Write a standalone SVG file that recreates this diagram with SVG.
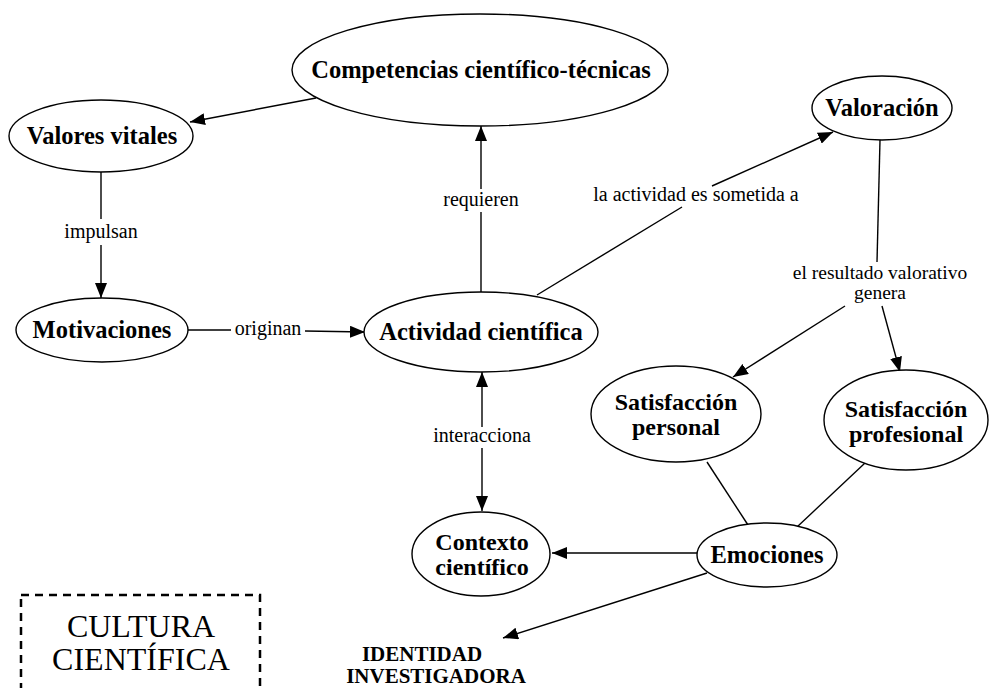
<svg xmlns="http://www.w3.org/2000/svg" width="989" height="688" viewBox="0 0 989 688">
<style>
.node ellipse{fill:#fff;stroke:#000;stroke-width:1.4}
.nt{font-family:"Liberation Serif","Times New Roman",serif;font-weight:bold;font-size:24.5px;text-anchor:middle;fill:#000}
.nt2{font-family:"Liberation Serif","Times New Roman",serif;font-weight:bold;font-size:24px;text-anchor:middle;fill:#000}
.el{font-family:"Liberation Serif","Times New Roman",serif;font-size:20px;text-anchor:middle;fill:#000}
.el2{font-family:"Liberation Serif","Times New Roman",serif;font-size:19.5px;text-anchor:middle;fill:#000}
.big{font-family:"Liberation Serif","Times New Roman",serif;font-size:32px;text-anchor:middle;fill:#000}
#connectors line{stroke:#000;stroke-width:1.4;fill:none}
</style>
<defs>
<marker id="ah" markerUnits="userSpaceOnUse" markerWidth="16" markerHeight="12" refX="15" refY="6" orient="auto-start-reverse">
<path d="M0,0 L15,6 L0,12 z" fill="#000"/>
</marker>
</defs>
<rect width="989" height="688" fill="#fff"/>
<g id="connectors">
<line x1="316" y1="98" x2="190" y2="122" marker-end="url(#ah)"/>
<line x1="101" y1="172" x2="101" y2="219"/>
<line x1="101" y1="245" x2="101" y2="298" marker-end="url(#ah)"/>
<line x1="188" y1="330" x2="231" y2="330"/>
<line x1="305" y1="331" x2="365" y2="332" marker-end="url(#ah)"/>
<line x1="481" y1="292" x2="481" y2="212"/>
<line x1="481" y1="189" x2="481" y2="126" marker-end="url(#ah)"/>
<line x1="537" y1="295" x2="682" y2="207"/>
<line x1="712" y1="186" x2="833" y2="132" marker-end="url(#ah)"/>
<line x1="880" y1="140" x2="877" y2="262"/>
<line x1="845" y1="306" x2="733" y2="377" marker-end="url(#ah)"/>
<line x1="882" y1="306" x2="900" y2="372" marker-end="url(#ah)"/>
<line x1="707" y1="462" x2="748" y2="525"/>
<line x1="865" y1="463" x2="797" y2="527"/>
<line x1="697" y1="553" x2="552" y2="553" marker-end="url(#ah)"/>
<line x1="482" y1="427" x2="482" y2="372" marker-end="url(#ah)"/>
<line x1="482" y1="448" x2="482" y2="511" marker-end="url(#ah)"/>
<line x1="707" y1="573" x2="503" y2="638" marker-end="url(#ah)"/>
<text class="el" x="101" y="238">impulsan</text>
<text class="el" x="268" y="335">originan</text>
<text class="el" x="481" y="206">requieren</text>
<text class="el" x="696" y="201">la actividad es sometida a</text>
<text class="el2" x="880" y="279">el resultado valorativo</text>
<text class="el2" x="880" y="299">genera</text>
<text class="el" x="482" y="442">interacciona</text>
</g>
<g id="competencias" class="node">
<ellipse cx="480" cy="70" rx="188" ry="56"/>
<text class="nt" x="481" y="78">Competencias científico-técnicas</text>
</g>
<g id="valores" class="node">
<ellipse cx="101" cy="136" rx="92" ry="36"/>
<text class="nt" x="102" y="144">Valores vitales</text>
</g>
<g id="motivaciones" class="node">
<ellipse cx="102" cy="330" rx="86" ry="32"/>
<text class="nt" x="102" y="338">Motivaciones</text>
</g>
<g id="actividad" class="node">
<ellipse cx="481" cy="332" rx="117" ry="40"/>
<text class="nt" x="481" y="340">Actividad científica</text>
</g>
<g id="valoracion" class="node">
<ellipse cx="882" cy="108" rx="70" ry="32"/>
<text class="nt" x="882" y="116">Valoración</text>
</g>
<g id="satpersonal" class="node">
<ellipse cx="676" cy="414" rx="85" ry="48"/>
<text class="nt2" x="676" y="410">Satisfacción</text>
<text class="nt2" x="676" y="435">personal</text>
</g>
<g id="satprofesional" class="node">
<ellipse cx="906" cy="420" rx="82" ry="50"/>
<text class="nt2" x="906" y="417">Satisfacción</text>
<text class="nt2" x="906" y="442">profesional</text>
</g>
<g id="emociones" class="node">
<ellipse cx="767" cy="555" rx="70" ry="32"/>
<text class="nt" x="767" y="563">Emociones</text>
</g>
<g id="contexto" class="node">
<ellipse cx="481" cy="554" rx="69" ry="42"/>
<text class="nt2" x="482" y="550">Contexto</text>
<text class="nt2" x="482" y="575">científico</text>
</g>
<g id="identidad" class="node">
<text class="nt" x="422" y="661" style="font-size:21px">IDENTIDAD</text>
<text class="nt" x="436" y="683" style="font-size:21px">INVESTIGADORA</text>
</g>
<g id="cultura">
<rect x="21" y="595" width="239" height="110" fill="none" stroke="#000" stroke-width="2.5" stroke-dasharray="8,6"/>
<text class="big" x="141" y="637">CULTURA</text>
<text class="big" x="141" y="670">CIENTÍFICA</text>
</g>
</svg>
